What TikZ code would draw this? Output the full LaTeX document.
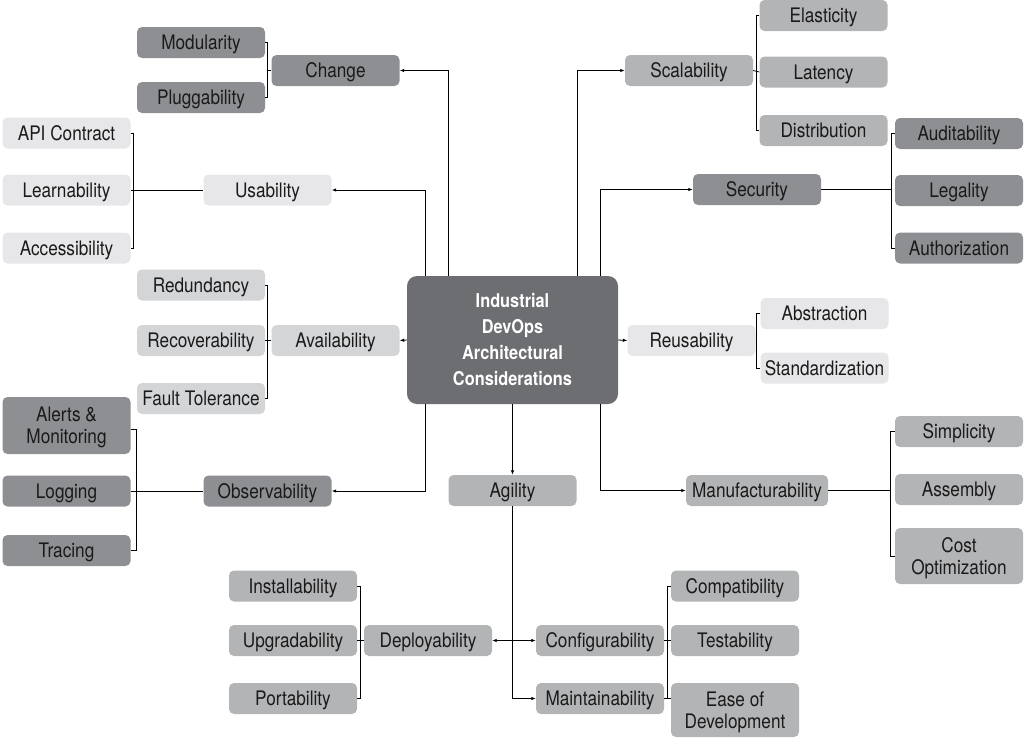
\documentclass[tikz,border=0pt]{standalone}
\usepackage{fontspec}
\setmainfont{TeX Gyre Heros}[FakeStretch=0.86]
\usetikzlibrary{arrows.meta}

\definecolor{cdark}{HTML}{8E8F92}
\definecolor{cmid}{HTML}{B3B4B6}
\definecolor{clight}{HTML}{D4D5D7}
\definecolor{cvlight}{HTML}{E7E7E9}
\definecolor{ccore}{HTML}{6D6E71}
\definecolor{ctext}{HTML}{1A1A1A}

% invisible strut that balances two-line labels inside their boxes
\newcommand{\toplift}{\rule{0pt}{18.6pt}}

\tikzset{
  box/.style={rectangle, rounded corners=5pt, minimum width=128pt, minimum height=31pt,
    inner sep=0pt, align=center, text=ctext, text height=18pt, text depth=3.6pt,
    font=\fontsize{20}{22}\selectfont},
  tallbox/.style={box, minimum height=56pt, text height=, text depth=},
  core/.style={rectangle, rounded corners=10pt, minimum width=211pt, minimum height=128pt,
    inner sep=0pt, align=center, fill=ccore, text=white,
    font=\bfseries\fontsize{19}{26}\selectfont},
  link/.style={line width=0.8pt, black},
  arr/.style={link, -{Latex[length=4.5pt,width=3.5pt]}},
  biarr/.style={link, {Latex[length=4.5pt,width=3.5pt]}-{Latex[length=4.5pt,width=3.5pt]}},
}

\begin{document}
\begin{tikzpicture}[x=1pt, y=-1pt]
\useasboundingbox (0,0) rectangle (1025,739);

% central topic
\node[core] (center) at (512.5,340) {Industrial\\DevOps\\Architectural\\Considerations};

% Change
\node[box, fill=cdark] (mod) at (201,42.5) {Modularity};
\node[box, fill=cdark] (plug) at (201,97.5) {Pluggability};
\node[box, fill=cdark] (change) at (335.5,70.5) {Change};

% Usability
\node[box, fill=cvlight] (api) at (66.5,133) {API Contract};
\node[box, fill=cvlight] (learn) at (66.5,190) {Learnability};
\node[box, fill=cvlight] (access) at (66.5,248) {Accessibility};
\node[box, fill=cvlight] (usab) at (267.5,190) {Usability};

% Availability
\node[box, fill=clight] (redund) at (201,285) {Redundancy};
\node[box, fill=clight] (recov) at (201,340.5) {Recoverability};
\node[box, fill=clight] (fault) at (201,398.5) {Fault Tolerance};
\node[box, fill=clight] (avail) at (335.5,340.5) {Availability};

% Observability
\node[tallbox, fill=cdark, minimum height=57pt] (alerts) at (66.5,425.5) {\toplift Alerts \&\\Monitoring};
\node[box, fill=cdark] (logging) at (66.5,491) {Logging};
\node[box, fill=cdark] (tracing) at (66.5,550.5) {Tracing};
\node[box, fill=cdark] (observ) at (267.5,491) {Observability};

% Scalability
\node[box, fill=cmid] (scal) at (689,70.5) {Scalability};
\node[box, fill=cmid] (elast) at (823.5,15.5) {Elasticity};
\node[box, fill=cmid] (latency) at (823.5,72) {Latency};
\node[box, fill=cmid] (distrib) at (823.5,130.5) {Distribution};

% Security
\node[box, fill=cdark] (security) at (757,189.5) {Security};
\node[box, fill=cdark] (audit) at (959,133.5) {Auditability};
\node[box, fill=cdark] (legal) at (959,190.5) {Legality};
\node[box, fill=cdark] (authz) at (959,248) {Authorization};

% Reusability
\node[box, fill=cvlight] (reus) at (691.5,340.5) {Reusability};
\node[box, fill=cvlight] (abstr) at (824.5,313.5) {Abstraction};
\node[box, fill=cvlight] (stand) at (824.5,368) {Standardization};

% Manufacturability
\node[box, fill=cmid, minimum width=142pt] (manuf) at (757,490.5) {Manufacturability};
\node[box, fill=cmid] (simpl) at (959,431.5) {Simplicity};
\node[box, fill=cmid] (assembly) at (959,489.5) {Assembly};
\node[tallbox, fill=cmid] (cost) at (959,556) {\toplift Cost\\Optimization};

% Agility
\node[box, fill=cmid] (agility) at (512.5,490.5) {Agility};
\node[box, fill=cmid] (deploy) at (428,640.5) {Deployability};
\node[box, fill=cmid] (install) at (293,586) {Installability};
\node[box, fill=cmid] (upgrad) at (293,640.5) {Upgradability};
\node[box, fill=cmid] (port) at (293,698.5) {Portability};
\node[box, fill=cmid] (config) at (600,640.5) {Configurability};
\node[box, fill=cmid] (maint) at (600,698.5) {Maintainability};
\node[box, fill=cmid] (compat) at (735,586) {Compatibility};
\node[box, fill=cmid] (test) at (735,640.5) {Testability};
\node[tallbox, fill=cmid, minimum height=54pt] (ease) at (735,710) {\toplift Ease of\\Development};

% connectors from the central topic
\draw[arr] ([xshift=-64.5pt]center.north) |- (change.east);
\draw[arr] ([xshift=-87.5pt]center.north) |- (usab.east);
\draw[arr] ([xshift=64.5pt]center.north) |- (scal.west);
\draw[arr] ([xshift=87.5pt]center.north) |- (security.west);
\draw[arr] (center.west) -- (avail.east);
\draw[arr] (center.east) -- (reus.west);
\draw[arr] ([xshift=-87.5pt]center.south) |- (observ.east);
\draw[arr] (center.south) -- (agility.north);
\draw[arr] ([xshift=87.5pt]center.south) |- (manuf.west);

% Agility branches
\draw[arr] (agility.south) |- (maint.west);
\draw[biarr] (deploy.east) -- (config.west);

% brackets grouping the sub-topics
\draw[link] (mod.east) -- ++(2.5,0) coordinate (bchange) |- (plug.east);
\draw[link] (bchange |- change) -- (change.west);

\draw[link] (api.east) -- ++(3,0) coordinate (busab) |- (access.east);
\draw[link] (learn.east) -- (usab.west);

\draw[link] (redund.east) -- ++(2.5,0) coordinate (bavail) |- (fault.east);
\draw[link] (recov.east) -- (avail.west);

\draw[link] (alerts.east) ++(0,3.5) -- ++(6,0) coordinate (bobs) |- (tracing.east);
\draw[link] (logging.east) -- (observ.west);

\draw[link] (elast.west) -- ++(-2.5,0) coordinate (bscal) |- (distrib.west);
\draw[link] (scal.east) -- (latency.west);

\draw[link] (audit.west) -- ++(-3,0) coordinate (bsec) |- (authz.west);
\draw[link] (security.east) -- (bsec |- security);

\draw[link] (abstr.west) -- ++(-3.5,0) coordinate (breus) |- (stand.west);
\draw[link] (reus.east) -- (breus |- reus);

\draw[link] (simpl.west) -- ++(-4,0) coordinate (bmanuf) |- (cost.west);
\draw[link] (manuf.east) -- (bmanuf |- manuf);

\draw[link] (install.east) -- ++(3.5,0) coordinate (bdeploy) |- (port.east);
\draw[link] (upgrad.east) -- (deploy.west);

\draw[link] (compat.west) -- ++(-3.5,0) coordinate (bconf) -- (bconf |- maint);
\draw[link] (config.east) -- (test.west);
\draw[link] (maint.east) -- (maint.east -| ease.west);
\end{tikzpicture}
\end{document}
